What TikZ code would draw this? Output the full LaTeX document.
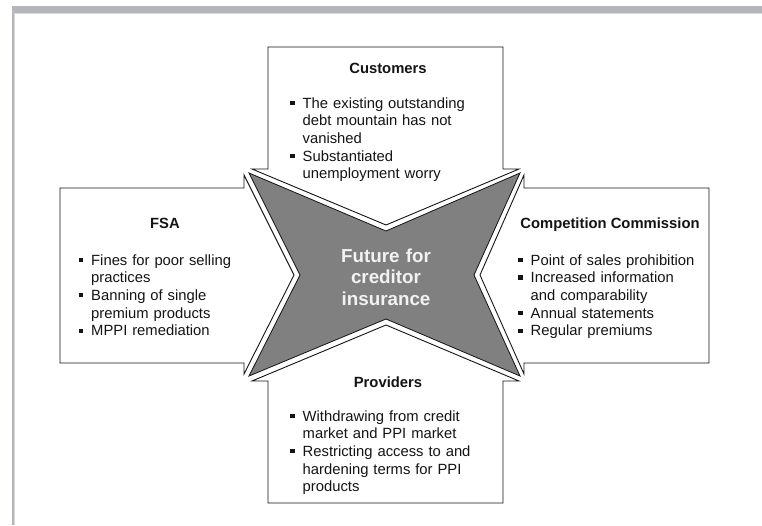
\documentclass[tikz,border=0pt]{standalone}
\usepackage{fontspec}
\setmainfont{Liberation Sans}
\usepackage{tikz}
\definecolor{ink}{HTML}{141414}
\definecolor{bar}{HTML}{B4B6BA}
\definecolor{barlight}{HTML}{D9DADC}
\definecolor{hubfill}{HTML}{808080}
\definecolor{hubink}{HTML}{F2F2F2}
% square bullet hanging left of the text start
\newcommand{\blt}[1][8pt]{\leavevmode\llap{\raisebox{3pt}{\rule{4.3pt}{4.3pt}}\hspace{#1}}}
\tikzset{
  every picture/.style={line join=miter},
  arrowbox/.style={draw=ink, fill=white, line width=0.9pt},
  hub/.style={draw=ink, fill=hubfill, line width=0.8pt},
  head/.style={font=\fontsize{14.8}{17.7}\selectfont\bfseries, text=ink, inner sep=0pt, anchor=base},
  list/.style={font=\fontsize{14.8}{17.7}\selectfont, text=ink, inner sep=0pt,
    text width=190pt, align=left, anchor=base west},
  hubtext/.style={font=\fontsize{18.8}{21.7}\selectfont\bfseries, text=hubink,
    inner sep=0pt, text width=130pt, align=center, anchor=base}
}

\begin{document}
\begin{tikzpicture}[x=1pt, y=-1pt]
  \useasboundingbox (0,0) rectangle (762,525);
  \fill[white] (0,0) rectangle (762,525);

  % Frame bars
  \fill[bar] (12,6) rectangle (762,13);
  \fill[barlight] (15,13) rectangle (762,14);
  \fill[bar] (12,6) rectangle (14,525);
  \fill[barlight] (14,13) rectangle (15,525);

  % Arrow boxes pointing inwards
  \draw[arrowbox] (268,169) -- (268,47) -- (503,47) -- (503,169) -- (519,169) -- (386,225) -- (252,169) -- cycle;
  \draw[arrowbox] (268,381) -- (268,503) -- (503,503) -- (503,381) -- (519,381) -- (386,325) -- (252,381) -- cycle;
  \draw[arrowbox] (244,188) -- (60,188) -- (60,363) -- (244,363) -- (244,374) -- (294,275) -- (244,175) -- cycle;
  \draw[arrowbox] (524,188) -- (709,188) -- (709,363) -- (524,363) -- (524,374) -- (480,275) -- (524,175) -- cycle;

  % Star in the middle
  \draw[hub] (249,173) -- (386,231) -- (520,173) -- (474,275) -- (520,376) -- (386,319) -- (249,376) -- (300,275) -- cycle;
  \node[hubtext] (hubText) at (386,262) {Future for\\ creditor\\ insurance};

  % Customers
  \node[head] (custHead) at (388,73) {Customers};
  \node[list] (custList) at (302.5,108) {\blt The existing outstanding\\ debt mountain has not\\ vanished\\
    \blt Substantiated\\ unemployment worry};

  % FSA
  \node[head] (fsaHead) at (165,228) {FSA};
  \node[list] (fsaList) at (91,265) {\blt Fines for poor selling\\ practices\\
    \blt Banning of single\\ premium products\\ \blt MPPI remediation};

  % Competition Commission
  \node[head] (ccHead) at (610,228) {Competition Commission};
  \node[list] (ccList) at (530.5,265) {\blt Point of sales prohibition\\ \blt Increased information\\
    and comparability\\ \blt Annual statements\\ \blt Regular premiums};

  % Providers
  \node[head] (provHead) at (388,387) {Providers};
  \node[list] (provList) at (302.5,421) {\blt Withdrawing from credit\\ market and PPI market\\
    \blt Restricting access to and\\ hardening terms for PPI\\ products};
\end{tikzpicture}
\end{document}
